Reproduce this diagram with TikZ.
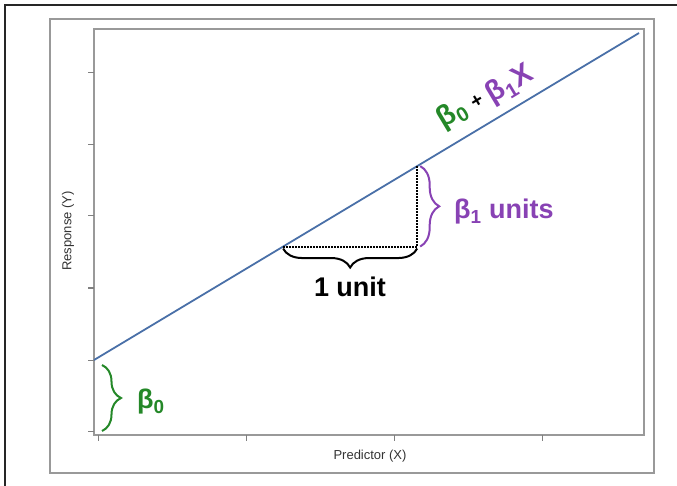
\documentclass[tikz,border=0pt]{standalone}
\usepackage{fontspec}
\setmainfont{Liberation Sans}
\usepackage{xcolor}
\usetikzlibrary{calc}
\usetikzlibrary{decorations.pathreplacing}

\definecolor{fitblue}{RGB}{74,112,168}
\definecolor{betagreen}{RGB}{36,136,40}
\definecolor{betapurple}{RGB}{136,66,180}

\begin{document}
\begin{tikzpicture}[x=1pt, y=-1pt,
    frame/.style={draw=black!40, line width=1.4pt},
    tickmark/.style={draw=black!50, line width=1pt},
    guide/.style={line width=2pt, dash pattern=on 1.5pt off 1.5pt},
    bracket/.style={decorate, decoration={brace, amplitude=19pt}, line width=2pt},
    big/.style={font=\fontsize{27}{30}\selectfont\bfseries, inner sep=0pt},
    small/.style={font=\fontsize{13}{15}\selectfont, text=black!80},
    eqpart/.style={font=\fontsize{29}{30}\selectfont\bfseries, rotate=31, inner sep=0pt}
]
    \useasboundingbox (0,0) rectangle (677,486);

    % Frames
    \draw[line width=2.6pt, black!85] (5,486) -- (5,5) -- (677,5);
    \draw[frame] (50,19) rectangle (654,473);
    \draw[frame] (94,29) rectangle (644,435);

    % Axis ticks
    \foreach \ty in {73,145,216,288,360,431}
        \draw[tickmark] (88,\ty) -- (94,\ty);
    \foreach \tx in {98,246,394,542}
        \draw[tickmark] (\tx,435) -- (\tx,441);

    % Axis labels
    \node[small, rotate=90] (ylab) at (68,231) {Response (Y)};
    \node[small] (xlab) at (370,456) {Predictor (X)};

    % Fitted line
    \coordinate (start) at (94,360);
    \coordinate (end) at (639,33);
    \draw[fitblue, line width=1.8pt] (start) -- (end);

    % Slope triangle
    \coordinate (run0) at ($(start)!0.347!(end)$);
    \coordinate (rise1) at ($(start)!0.593!(end)$);
    \coordinate (run1) at (rise1 |- run0);
    \draw[guide] (run0) -- (run1) -- (rise1);

    % Braces
    \draw[bracket] ($(run1)+(0,2)$) -- ($(run0)+(0,2)$);
    \node[big] (unit) at (350,287) {1 unit};

    \draw[bracket, betapurple] ($(rise1)+(3,0)$) -- ($(run1)+(3,0)$);
    \node[big, text=betapurple, anchor=west] (slope) at (454,212) {β\textsubscript{1} units};

    \draw[bracket, betagreen] (102,365) -- (102,431);
    \node[big, text=betagreen, anchor=west] (icept) at (137,402) {β\textsubscript{0}};

    % Equation along the line
    \node[eqpart, text=betagreen] (eqb0) at (452,114) {β\textsubscript{0}};
    \node[eqpart, font=\fontsize{20}{20}\selectfont\bfseries] (eqplus) at (477,101) {+};
    \node[eqpart, text=betapurple] (eqb1) at (510,85) {β\textsubscript{1}X};
\end{tikzpicture}
\end{document}
